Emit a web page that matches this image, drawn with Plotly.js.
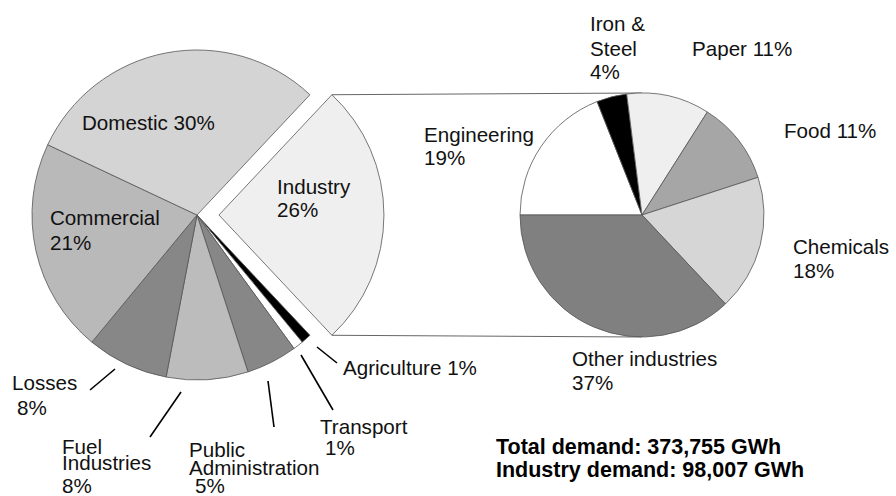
<!DOCTYPE html>
<html>
<head>
<meta charset="utf-8">
<script src="https://cdn.plot.ly/plotly-3.0.1.min.js"></script>
<style>html,body{margin:0;padding:0;background:#fff;}#chart{width:896px;height:496px;}</style>
</head>
<body>
<div id="chart"></div>
<script>
// ---- data ----
const leftLabels = ['Industry', 'Agriculture', 'Transport', 'Public Administration', 'Fuel Industries', 'Losses', 'Commercial', 'Domestic'];
const leftValues = [26, 1, 1, 5, 8, 8, 21, 30];
const rightLabels = ['Engineering', 'Iron & Steel', 'Paper', 'Food', 'Chemicals', 'Other industries'];
const rightValues = [19, 4, 11, 11, 18, 37];
const summaryLines = ['Total demand: 373,755 GWh', 'Industry demand: 98,007 GWh'];

// ---- styles ----
const W = 896, H = 496;
const leftColors = {
  'Industry': '#efefef', 'Agriculture': '#000000', 'Transport': '#ffffff',
  'Public Administration': '#878787', 'Fuel Industries': '#bcbcbc', 'Losses': '#878787',
  'Commercial': '#b9b9b9', 'Domestic': '#d4d4d4'
};
const rightColors = {
  'Engineering': '#ffffff', 'Iron & Steel': '#000000', 'Paper': '#efefef',
  'Food': '#a6a6a6', 'Chemicals': '#d6d6d6', 'Other industries': '#808080'
};
const PULL = 0.133;
const L = {cx: 197, cy: 215, r: 165};
const R = {cx: 642, cy: 215, r: 122};
const FONT = '"Liberation Sans", Arial, Helvetica, sans-serif';
const FS = 20.6, FSB = 21.5;

const px = x => x / W;
const py = y => 1 - y / H;

const leftTotal = leftValues.reduce((a, b) => a + b, 0);
const leftRotation = 90 - leftValues[0] / leftTotal * 180;
const halfL = L.r * (1 + PULL);

const traces = [
  {
    type: 'pie', labels: leftLabels, values: leftValues, sort: false,
    direction: 'clockwise', rotation: leftRotation,
    pull: leftLabels.map(l => l === 'Industry' ? PULL : 0),
    marker: {colors: leftLabels.map(l => leftColors[l]), line: {color: '#555', width: 0.8}},
    textinfo: 'none', hoverinfo: 'label+percent', showlegend: false,
    domain: {x: [px(L.cx - halfL), px(L.cx + halfL)], y: [py(L.cy + halfL), py(L.cy - halfL)]}
  },
  {
    type: 'pie', labels: rightLabels, values: rightValues, sort: false,
    direction: 'clockwise', rotation: -90,
    marker: {colors: rightLabels.map(l => rightColors[l]), line: {color: '#555', width: 0.8}},
    textinfo: 'none', hoverinfo: 'label+percent', showlegend: false,
    domain: {x: [px(R.cx - R.r), px(R.cx + R.r)], y: [py(R.cy + R.r), py(R.cy - R.r)]}
  }
];

// ---- label text built from data ----
function valOf(label) {
  let i = leftLabels.indexOf(label);
  if (i >= 0) return leftValues[i];
  return rightValues[rightLabels.indexOf(label)];
}
function linesFor(label, fmt) {
  const v = valOf(label) + '%';
  if (fmt === 'one') return [label + ' ' + v];
  if (fmt === 'two') return [label, v];
  const words = label.split(' ');
  const out = [];
  words.forEach(w => { if (w === '&') out[out.length - 1] += ' &'; else out.push(w); });
  out.push(v);
  return out;
}
// positions: per-line [x, y] (pixels, left edge, y = cap middle)
const labelPos = [
  ['Domestic', 'one', [[82, 122]]],
  ['Commercial', 'two', [[50, 217], [50, 242]]],
  ['Industry', 'two', [[277, 186], [277, 210]]],
  ['Losses', 'two', [[12, 382], [17, 407]]],
  ['Fuel Industries', 'words', [[62, 446], [62, 462], [62, 485]]],
  ['Public Administration', 'words', [[189, 449], [189, 467], [195, 485]]],
  ['Transport', 'two', [[320, 426], [325, 447]]],
  ['Agriculture', 'one', [[343, 367]]],
  ['Iron & Steel', 'words', [[590, 24], [590, 48], [590, 72]]],
  ['Paper', 'one', [[692, 49]]],
  ['Engineering', 'two', [[424, 134], [424, 157]]],
  ['Food', 'one', [[784, 130]]],
  ['Chemicals', 'two', [[793, 246], [793, 270]]],
  ['Other industries', 'two', [[572, 358], [572, 382]]]
];
const annotations = [];
labelPos.forEach(([label, fmt, pos]) => {
  const lines = linesFor(label, fmt);
  lines.forEach((t, k) => {
    annotations.push({
      text: t, xref: 'paper', yref: 'paper', x: px(pos[k][0] - 2), y: py(pos[k][1]),
      xanchor: 'left', yanchor: 'middle', showarrow: false,
      font: {family: FONT, size: FS, color: '#111'}
    });
  });
});
summaryLines.forEach((t, k) => {
  annotations.push({
    text: '<b>' + t + '</b>', xref: 'paper', yref: 'paper', x: px(494), y: py(447 + 23 * k),
    xanchor: 'left', yanchor: 'middle', showarrow: false,
    font: {family: FONT, size: FSB, color: '#000'}
  });
});

// ---- leader lines and connector lines ----
const leaders = [
  [90, 390, 115, 369], [150, 437, 181, 392], [274, 427, 268, 381],
  [333, 410, 301, 355], [337, 363, 317, 347]
];
const shapes = leaders.map(([x0, y0, x1, y1]) => ({
  type: 'line', xref: 'paper', yref: 'paper', x0: px(x0), y0: py(y0), x1: px(x1), y1: py(y1),
  line: {color: '#000', width: 1.6}
}));
const halfAng = leftValues[0] / leftTotal * Math.PI;
const off = L.r * PULL;
const cornerX = L.cx + off + L.r * Math.cos(halfAng);
const cornerDY = L.r * Math.sin(halfAng);
[[L.cy - cornerDY, R.cy - R.r], [L.cy + cornerDY, R.cy + R.r]].forEach(([yA, yB]) => {
  shapes.push({
    type: 'line', xref: 'paper', yref: 'paper', layer: 'below',
    x0: px(cornerX), y0: py(yA), x1: px(R.cx), y1: py(yB),
    line: {color: '#666', width: 1}
  });
});

const layout = {
  width: W, height: H, margin: {l: 0, r: 0, t: 0, b: 0},
  paper_bgcolor: '#fff', plot_bgcolor: '#fff',
  showlegend: false, annotations: annotations, shapes: shapes,
  font: {family: FONT}
};
Plotly.newPlot('chart', traces, layout, {displayModeBar: false, staticPlot: true});
</script>
</body>
</html>
